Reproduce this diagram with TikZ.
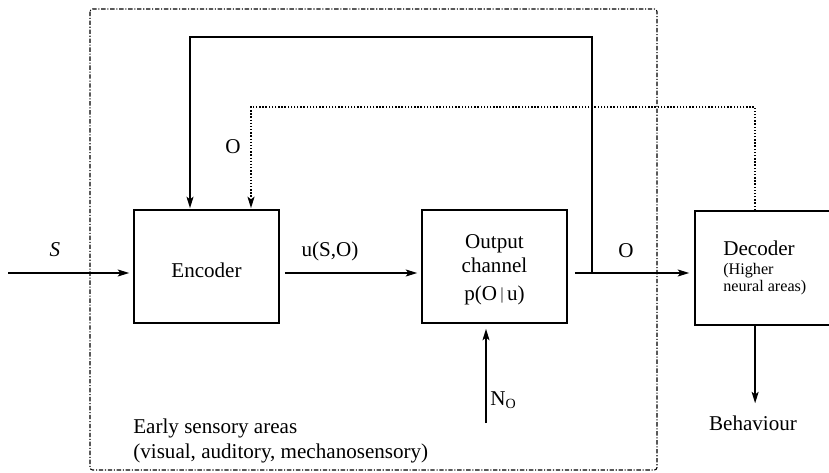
\documentclass[tikz,border=0pt]{standalone}
\usepackage{fontspec}
\setmainfont{Liberation Serif}
\usetikzlibrary{arrows.meta}
\begin{document}
\begin{tikzpicture}[x=0.02cm,y=-0.02cm,
    every node/.style={font=\fontsize{12}{14}\selectfont},
    box/.style={draw,line width=1pt,minimum width=2.9cm,minimum height=2.26cm,inner sep=0pt},
    flow/.style={line width=0.8pt,-{Stealth[length=6.5pt,width=4pt,inset=1.5pt]}},
    txt/.style={inner sep=0pt}]
    \clip (0,0) rectangle (829,473);
    % Early sensory areas
    \draw[line width=0.6pt,rounded corners=1.5pt,dash pattern=on 2.5pt off 1pt on 0.6pt off 1pt]
        (90,9) rectangle (657,470);
    \node[txt,anchor=west,align=left] (area) at (133,441) {Early sensory areas\\(visual, auditory, mechanosensory)};
    % Boxes
    \node[box] (enc) at (206.5,266.5) {};
    \node[txt] (enclab) at (206.5,270) {Encoder};
    \node[box] (chan) at (494.5,266.5) {};
    \node[txt,align=center] (chanlab) at (494.5,270) {Output\\[-0.5pt]channel\\[2pt]p(O\,\raisebox{0.5pt}{\scalebox{0.7}[0.8]{|}}\,u)};
    \node[box,minimum width=3cm,minimum height=2.28cm] (dec) at (770,268) {};
    \node[txt,anchor=west] (declab) at (723,248) {Decoder};
    \node[txt,anchor=west,align=left,font=\fontsize{9.2}{10}\selectfont] (decsub) at (723,279) {(Higher\\neural areas)};
    % Forward path
    \coordinate (sin) at (8,273);
    \coordinate (split) at (592,273);
    \draw[flow] (sin) -- ([xshift=-0.08cm]enc.west |- sin);
    \draw[flow] ([xshift=0.1cm]enc.east |- sin) -- ([xshift=-0.08cm]chan.west |- sin);
    \draw[flow] ([xshift=0.14cm]chan.east |- sin) -- ([xshift=-0.1cm]dec.west |- sin);
    \node[txt] (slab) at (55,250) {\textit{S}};
    \node[txt] (ulab) at (330,251) {u(S,O)};
    \node[txt] (olab) at (626,251) {O};
    % Feedback
    \coordinate (fb1) at (190,37);
    \coordinate (fb2) at (251,107);
    \coordinate (dectap) at ([xshift=1.22cm]dec.north west);
    \draw[flow] (split) |- (fb1) -- ([yshift=0.02cm]fb1 |- enc.north);
    \draw[flow,densely dotted,line width=1pt] (dectap) |- (fb2) -- ([yshift=0.02cm]fb2 |- enc.north);
    \node[txt] (olab2) at (233,147) {O};
    % Noise
    \coordinate (noise) at (486,423);
    \draw[flow] (noise) -- ([yshift=-0.1cm]chan.south -| noise);
    \node[txt,anchor=west] (nlab) at (490,400) {N\textsubscript{O}};
    % Behaviour
    \node[txt] (beh) at (753,423) {Behaviour};
    \draw[flow] ([xshift=1.22cm]dec.south west) -- ([yshift=0.24cm]beh.north -| dectap);
\end{tikzpicture}
\end{document}
